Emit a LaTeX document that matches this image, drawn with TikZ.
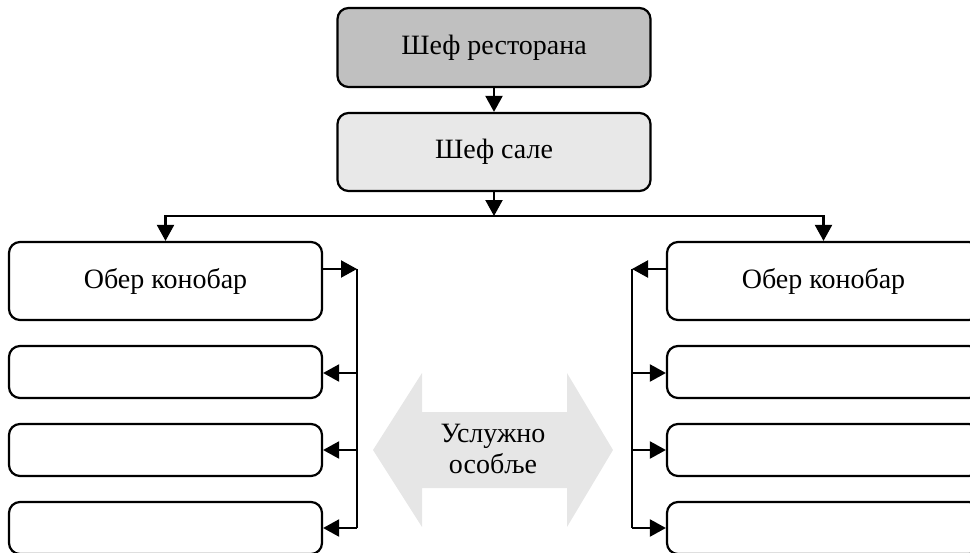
\documentclass[tikz,border=0pt]{standalone}
\usepackage{fontspec}
\setmainfont{Liberation Serif}
\usetikzlibrary{arrows.meta}
\definecolor{topgray}{HTML}{C0C0C0}
\definecolor{lightgray2}{HTML}{E8E8E8}
\definecolor{arrowgray}{HTML}{E6E6E6}
\tikzset{
  box/.style={draw=black, line width=2.2pt, rounded corners=11pt, minimum width=313pt, inner sep=0pt, font=\fontsize{28}{31}\selectfont},
  conn/.style={line width=2.2pt, -{Triangle[length=16pt,width=17pt]}},
  plain/.style={line width=2.2pt},
}
\begin{document}
\begin{tikzpicture}[x=1pt,y=-1pt]
\useasboundingbox (0,0) rectangle (970,552);
% top boxes
\node[box, fill=topgray, minimum height=79pt] (chef) at (494,47.5) {\raisebox{2pt}{Шеф ресторана}};
\node[box, fill=lightgray2, minimum height=78pt] (sale) at (494,152) {\raisebox{2pt}{Шеф сале}};
% left column
\node[box, fill=white, minimum height=78pt] (lob) at (165.5,281) {\raisebox{6pt}{Обер конобар}};
\node[box, fill=white, minimum height=52pt] (l2) at (165.5,372) {};
\node[box, fill=white, minimum height=52pt] (l3) at (165.5,450) {};
\node[box, fill=white, minimum height=52pt] (l4) at (165.5,528) {};
% right column
\node[box, fill=white, minimum height=78pt] (rob) at (823.5,281) {\raisebox{6pt}{Обер конобар}};
\node[box, fill=white, minimum height=52pt] (r2) at (823.5,372) {};
\node[box, fill=white, minimum height=52pt] (r3) at (823.5,450) {};
\node[box, fill=white, minimum height=52pt] (r4) at (823.5,528) {};
% coordinates
\coordinate (bus) at (494,216);
\coordinate (lbus) at (357,269);
\coordinate (lbusb) at (357,528);
\coordinate (rbus) at (632,269);
\coordinate (rbusb) at (632,528);
% connectors top
\draw[conn] (chef.south) -- (sale.north);
\draw[conn] (sale.south) -- (bus);
\draw[conn] (bus) -| (lob.north);
\draw[conn] (bus) -| (rob.north);
% left bus
\draw[plain] (lbus) -- (lbusb);
\draw[conn] (lob.east |- lbus) -- (lbus);
\draw[conn] (lbus |- 0,373) -- (l2.east |- 0,373);
\draw[conn] (lbus |- 0,450) -- (l3.east |- 0,450);
\draw[conn] (lbusb) -- (l4.east |- lbusb);
% right bus
\draw[plain] (rbus) -- (rbusb);
\draw[conn] (rob.west |- rbus) -- (rbus);
\draw[conn] (rbus |- 0,373) -- (r2.west |- 0,373);
\draw[conn] (rbus |- 0,450) -- (r3.west |- 0,450);
\draw[conn] (rbusb) -- (r4.west |- rbusb);
% double arrow
\fill[arrowgray] (373,450) -- (422,373) -- (422,412) -- (567,412) -- (567,373) -- (613,450) -- (567,527) -- (567,488) -- (422,488) -- (422,527) -- cycle;
\node[align=center, font=\fontsize{28}{31}\selectfont] (staff) at (493,449) {Услужно\\особље};
\end{tikzpicture}
\end{document}
